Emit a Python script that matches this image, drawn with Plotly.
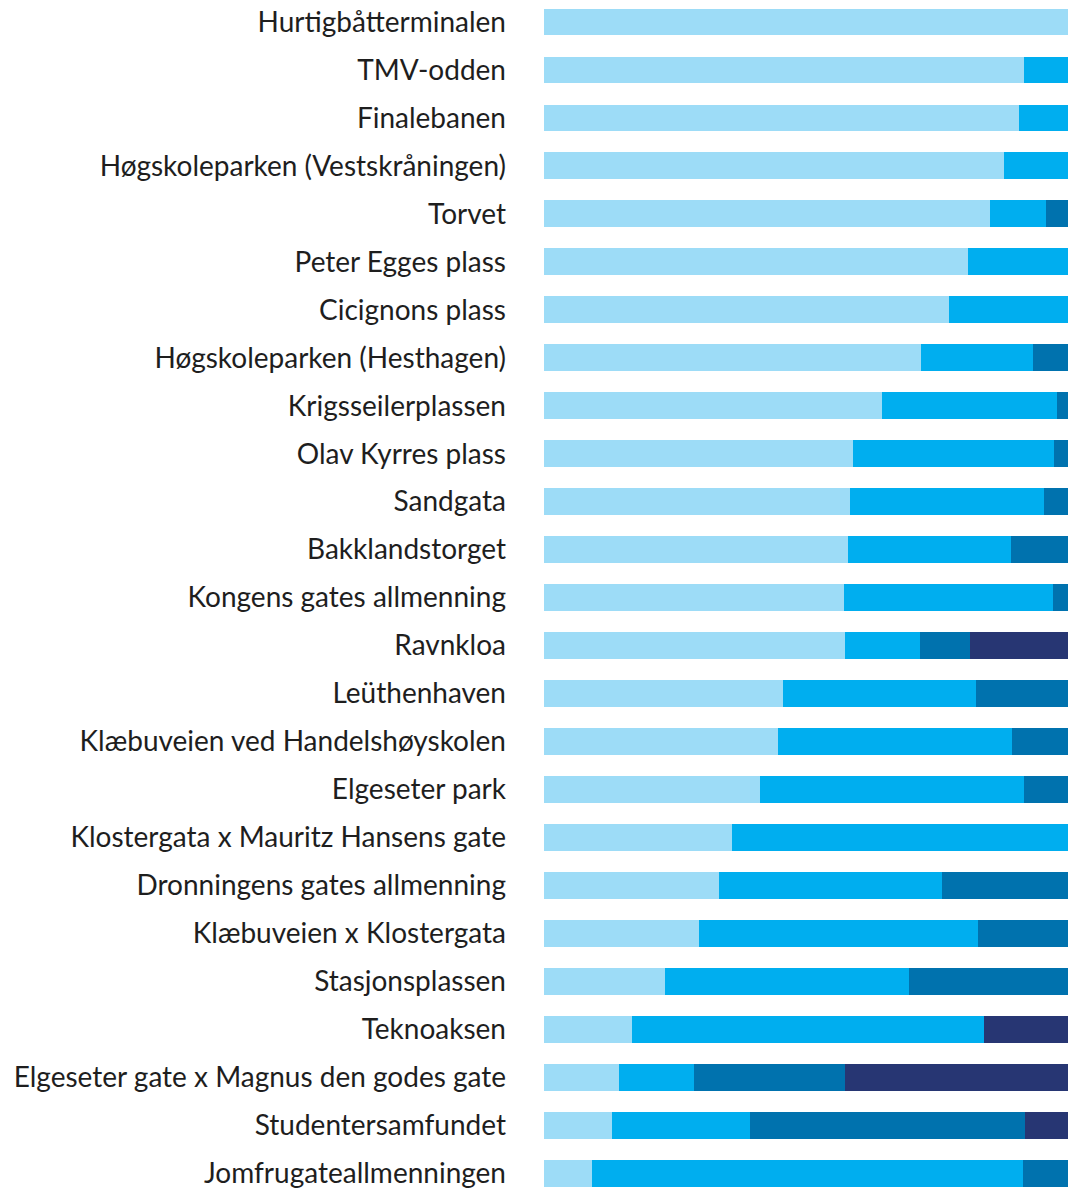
import plotly.graph_objects as go

categories = [
    "Hurtigbåtterminalen", "TMV-odden", "Finalebanen", "Høgskoleparken (Vestskråningen)",
    "Torvet", "Peter Egges plass", "Cicignons plass", "Høgskoleparken (Hesthagen)",
    "Krigsseilerplassen", "Olav Kyrres plass", "Sandgata", "Bakklandstorget",
    "Kongens gates allmenning", "Ravnkloa", "Leüthenhaven", "Klæbuveien ved Handelshøyskolen",
    "Elgeseter park", "Klostergata x Mauritz Hansens gate", "Dronningens gates allmenning",
    "Klæbuveien x Klostergata", "Stasjonsplassen", "Teknoaksen",
    "Elgeseter gate x Magnus den godes gate", "Studentersamfundet", "Jomfrugateallmenningen",
]

series1 = [100, 91.6, 90.6, 87.8, 85.1, 80.9, 77.3, 71.9, 64.5, 59.0, 58.4, 58.0, 57.3,
           57.4, 45.6, 44.7, 41.2, 35.9, 33.4, 29.6, 23.1, 16.8, 14.3, 13.0, 9.1]
series2 = [0, 8.4, 9.4, 12.2, 10.7, 19.1, 22.7, 21.4, 33.4, 38.3, 37.0, 31.1, 39.8,
           14.3, 36.8, 44.6, 50.4, 64.1, 42.6, 53.2, 46.6, 67.2, 14.3, 26.3, 82.3]
series3 = [0, 0, 0, 0, 4.2, 0, 0, 6.7, 2.1, 2.7, 4.6, 10.9, 2.9,
           9.6, 17.6, 10.7, 8.4, 0, 24.0, 17.2, 30.3, 0, 28.8, 52.5, 8.6]
series4 = [0, 0, 0, 0, 0, 0, 0, 0, 0, 0, 0, 0, 0,
           18.7, 0, 0, 0, 0, 0, 0, 0, 16.0, 42.6, 8.2, 0]

colors = ["#9DDCF7", "#00AEEF", "#0072AE", "#273673"]

fig = go.Figure()
for vals, col in zip([series1, series2, series3, series4], colors):
    fig.add_trace(go.Bar(
        y=categories, x=vals, orientation="h",
        marker=dict(color=col, line=dict(width=0)),
        showlegend=False, hoverinfo="skip",
    ))

fig.update_layout(
    barmode="stack",
    bargap=0.44,
    width=1068, height=1189,
    margin=dict(l=544, r=0, t=0, b=0),
    paper_bgcolor="white", plot_bgcolor="white",
    font=dict(family="Lato, Open Sans, sans-serif", color="#1e1e1e"),
)
fig.update_xaxes(range=[0, 100], visible=False, showgrid=False, zeroline=False)
fig.update_yaxes(
    type="category", categoryorder="array", categoryarray=categories,
    range=[24.33, -0.459], showgrid=False, zeroline=False, showline=False,
    ticks="", ticklabelstandoff=37, tickfont=dict(size=28, color="#1e1e1e"),
)

fig.write_html("out.html", config={"displayModeBar": False})

with open("out.html", "r", encoding="utf-8") as f:
    html = f.read()
html = html.replace("<head>", "<head><style>html,body{margin:0;padding:0;overflow:hidden;}</style>", 1)
with open("out.html", "w", encoding="utf-8") as f:
    f.write(html)
